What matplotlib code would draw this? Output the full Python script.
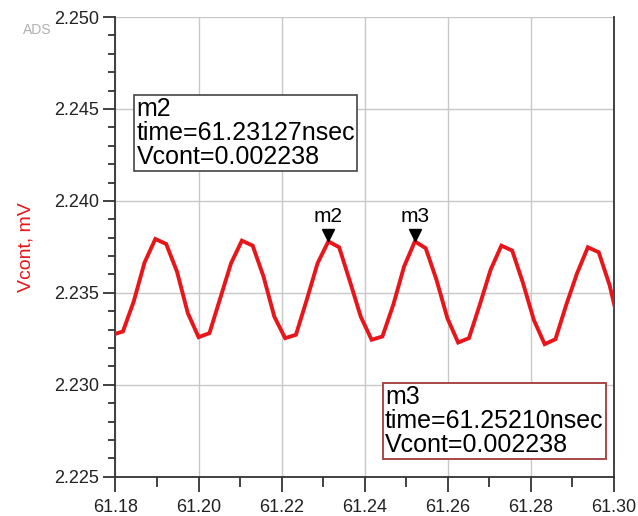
import matplotlib.pyplot as plt
from matplotlib.ticker import MultipleLocator

plt.rcParams['font.family'] = ['Liberation Sans', 'DejaVu Sans']

# time (nsec) and Vcont (mV)
time_ns = [61.17919, 61.18179, 61.18439, 61.18700, 61.18960, 61.19221, 61.19481,
           61.19742, 61.20002, 61.20263, 61.20523, 61.20783, 61.21044, 61.21304,
           61.21565, 61.21825, 61.22086, 61.22346, 61.22606, 61.22867, 61.23127,
           61.23387, 61.23648, 61.23908, 61.24169, 61.24429, 61.24690, 61.24950,
           61.25210, 61.25471, 61.25731, 61.25992, 61.26252, 61.26513, 61.26773,
           61.27033, 61.27294, 61.27554, 61.27815, 61.28075, 61.28336, 61.28596,
           61.28856, 61.29117, 61.29377, 61.29638, 61.29898, 61.30159]
vcont_mv = [2.23272, 2.23290, 2.23453, 2.23665, 2.23793, 2.23766, 2.23616,
            2.23390, 2.23259, 2.23281, 2.23471, 2.23661, 2.23784, 2.23757,
            2.23589, 2.23371, 2.23254, 2.23272, 2.23462, 2.23661, 2.23780,
            2.23748, 2.23561, 2.23370, 2.23245, 2.23263, 2.23435, 2.23643,
            2.23780, 2.23743, 2.23571, 2.23363, 2.23230, 2.23254, 2.23435,
            2.23625, 2.23757, 2.23730, 2.23553, 2.23353, 2.23221, 2.23248,
            2.23435, 2.23607, 2.23748, 2.23721, 2.23543, 2.23299]

# markers: name, time, value
marker_names = ["m2", "m3"]
marker_times = [61.23127, 61.25210]
marker_vals = [2.2378, 2.2378]

fig = plt.figure(figsize=(6.38, 5.16), dpi=100)
ax = fig.add_axes([0.181, 0.076, 0.781, 0.891])

ax.plot(time_ns, vcont_mv, color='#e8161b', lw=2.8, solid_joinstyle='miter', zorder=3)

ax.set_xlim(61.18, 61.30)
ax.set_ylim(2.225, 2.250)
ax.xaxis.set_major_locator(MultipleLocator(0.02))
ax.xaxis.set_minor_locator(MultipleLocator(0.01))
ax.yaxis.set_major_locator(MultipleLocator(0.005))
ax.yaxis.set_minor_locator(MultipleLocator(0.001))
ax.set_xticklabels(["%.2f" % v for v in ax.get_xticks()])
ax.set_yticklabels(["%.3f" % v for v in ax.get_yticks()])
ax.grid(True, which='major', color='#c8c8c8', lw=1.0, zorder=0)

ax.tick_params(which='major', direction='out', length=9, width=1.3, color='#333333',
               labelsize=13, labelcolor='#222222')
ax.tick_params(which='minor', direction='out', length=5, width=1.3, color='#333333')
ax.tick_params(axis='x', which='major', length=11, pad=5)
ax.tick_params(axis='x', which='minor', length=7)
ax.tick_params(axis='y', which='major', pad=3)
for s in ax.spines.values():
    s.set_color('#333333')
    s.set_linewidth(1.3)
ax.spines['top'].set_visible(False)

ax.set_ylabel("Vcont, mV", color='#e8161b', fontsize=14, labelpad=14)
fig.text(0.036, 0.935, "ADS", color='#b0b0b0', fontsize=10)

# marker triangles and labels
for name, t, v in zip(marker_names, marker_times, marker_vals):
    ax.plot(t, v + 0.00035, marker='v', color='black', ms=8, zorder=4)
    ax.annotate(name, (t, v), xytext=(0, 11), textcoords='offset points',
                ha='center', va='bottom', fontsize=15)

# readout boxes
ax.text(0.042, 0.825, "m2\ntime=61.23127nsec\nVcont=0.002238", transform=ax.transAxes,
        ha='left', va='top', fontsize=18, linespacing=1.0,
        bbox=dict(boxstyle='square,pad=0.08', fc='white', ec='#444444', lw=1.2))
ax.text(0.541, 0.2, "m3\ntime=61.25210nsec\nVcont=0.002238", transform=ax.transAxes,
        ha='left', va='top', fontsize=18, linespacing=1.0,
        bbox=dict(boxstyle='square,pad=0.08', fc='white', ec='#a84848', lw=1.4))

plt.savefig("out.png", dpi=100)
